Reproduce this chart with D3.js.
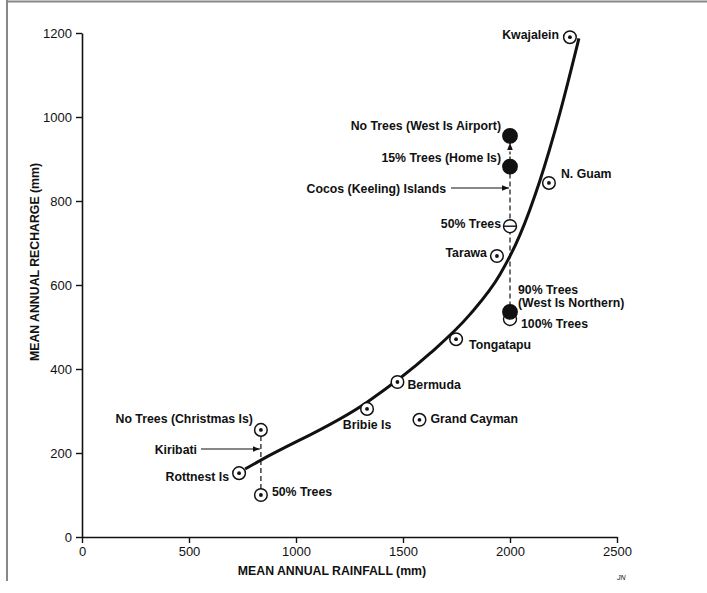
<!DOCTYPE html>
<html>
<head>
<meta charset="utf-8">
<script src="https://cdn.jsdelivr.net/npm/d3@7"></script>
<style>
  html, body { margin: 0; padding: 0; background: #fff; }
  svg { display: block; }
  text { font-family: "Liberation Sans", Arial, sans-serif; fill: #111; }
  .lbl { font-size: 12.3px; font-weight: bold; }
  .tick text { font-size: 13px; font-weight: normal; }
</style>
</head>
<body>
<div id="chart"></div>
<script>
(function () {
  'use strict';

  /* ---- Data (rainfall mm, recharge mm) ---- */
  const openNames    = ['Kwajalein', 'N. Guam', 'Tarawa', 'Tongatapu', 'Bermuda', 'Bribie Is',
                        'Grand Cayman', 'No Trees (Christmas Is)', 'Rottnest Is', '50% Trees'];
  const openRain     = [2280, 2182, 1939, 1748, 1474, 1332, 1577, 836, 734, 836];
  const openRecharge = [1190, 843, 669, 471, 369, 305, 279, 255, 152, 100];

  // Cocos (Keeling) Islands, all at the same rainfall
  const cocosNames    = ['100% Trees', 'No Trees (West Is Airport)', '15% Trees (Home Is)', '50% Trees', '90% Trees'];
  const cocosRain     = [2000, 2000, 2000, 2000, 2000];
  const cocosRecharge = [519, 955, 882, 740, 536];
  const cocosMarker   = ['open', 'filled', 'filled', 'half', 'filled'];

  // fitted curve
  const curveRain     = [762, 836, 1332, 1626, 1813, 1953, 2047, 2140, 2234, 2322];
  const curveRecharge = [162, 183, 321, 437, 530, 625, 720, 849, 1011, 1187];

  const xTicks = [0, 500, 1000, 1500, 2000, 2500];
  const yTicks = [0, 200, 400, 600, 800, 1000, 1200];

  /* ---- Label placement (dx, dy, anchor) ---- */
  const openLabelPos = {
    'Kwajalein':               [-11, 2, 'end'],
    'N. Guam':                 [12, -5, 'start'],
    'Tarawa':                  [-10, 1, 'end'],
    'Tongatapu':               [13, 10, 'start'],
    'Bermuda':                 [10, 7, 'start'],
    'Bribie Is':               [0, 20, 'middle'],
    'Grand Cayman':            [11, 3, 'start'],
    'No Trees (Christmas Is)': [-8, -7, 'end'],
    'Rottnest Is':             [-10, 8, 'end'],
    '50% Trees':               [11, 1, 'start']
  };
  const cocosLabelPos = {
    'No Trees (West Is Airport)': [-9, -6, 'end'],
    '15% Trees (Home Is)':        [-9, -5, 'end'],
    '50% Trees':                  [-9, 2, 'end'],
    '100% Trees':                 [11, 9, 'start']
  };

  const W = 707, H = 593;
  const x = d3.scaleLinear().domain([0, 2500]).range([82, 617]);
  const y = d3.scaleLinear().domain([0, 1200]).range([537, 33]);

  const svg = d3.select('#chart').append('svg')
    .attr('width', W).attr('height', H);

  const defs = svg.append('defs');
  defs.append('marker')
    .attr('id', 'arrow')
    .attr('viewBox', '0 0 10 10')
    .attr('refX', 10).attr('refY', 5)
    .attr('markerWidth', 7).attr('markerHeight', 7)
    .attr('markerUnits', 'userSpaceOnUse')
    .attr('orient', 'auto')
    .append('path').attr('d', 'M0,1 L10,5 L0,9 Z').attr('fill', '#111');

  /* ---- Scan frame ---- */
  svg.append('line').attr('x1', 7).attr('x2', 7).attr('y1', 0).attr('y2', 581)
    .attr('stroke', '#888').attr('stroke-width', 2);
  svg.append('line').attr('x1', 7).attr('x2', W).attr('y1', 1.5).attr('y2', 1.5)
    .attr('stroke', '#888').attr('stroke-width', 2);

  /* ---- Axes ---- */
  const xAxis = svg.append('g')
    .attr('transform', `translate(0,${y(0)})`)
    .call(d3.axisBottom(x).tickValues(xTicks).tickFormat(d3.format('d'))
      .tickSize(6).tickSizeOuter(0).tickPadding(4));
  const yAxis = svg.append('g')
    .attr('transform', `translate(${x(0)},0)`)
    .call(d3.axisLeft(y).tickValues(yTicks).tickFormat(d3.format('d'))
      .tickSize(6).tickSizeOuter(0).tickPadding(4));
  [xAxis, yAxis].forEach(g => {
    g.select('.domain').attr('stroke', '#111').attr('stroke-width', 1.6);
    g.selectAll('.tick line').attr('stroke', '#111').attr('stroke-width', 1.4);
    g.selectAll('.tick text').attr('fill', '#111');
  });

  svg.append('text').attr('class', 'lbl')
    .attr('x', 332).attr('y', 575).attr('text-anchor', 'middle')
    .text('MEAN ANNUAL RAINFALL (mm)');
  svg.append('text').attr('class', 'lbl')
    .attr('transform', 'translate(39,262) rotate(-90)').attr('text-anchor', 'middle')
    .text('MEAN ANNUAL RECHARGE (mm)');
  svg.append('text')
    .attr('x', 617).attr('y', 580)
    .style('font-size', '7px').style('font-style', 'italic')
    .text('JN');

  /* ---- Fitted curve ---- */
  const curvePts = curveRain.map((r, i) => [r, curveRecharge[i]]);
  svg.append('path')
    .datum(curvePts)
    .attr('d', d3.line().x(d => x(d[0])).y(d => y(d[1])).curve(d3.curveMonotoneX))
    .attr('fill', 'none').attr('stroke', '#111').attr('stroke-width', 3);

  /* ---- Dashed connectors ---- */
  const cx = x(2000);
  const dash = '5,3';
  svg.append('line')
    .attr('x1', cx).attr('x2', cx)
    .attr('y1', y(882) + 7).attr('y2', y(536) - 7)
    .attr('stroke', '#111').attr('stroke-width', 1.2).attr('stroke-dasharray', dash);
  svg.append('line')
    .attr('x1', cx).attr('x2', cx)
    .attr('y1', y(882) - 7).attr('y2', y(955) + 7)
    .attr('stroke', '#111').attr('stroke-width', 1.2).attr('stroke-dasharray', '3,2')
    .attr('marker-end', 'url(#arrow)');
  const kx = x(836);
  svg.append('line')
    .attr('x1', kx).attr('x2', kx)
    .attr('y1', y(255) + 6).attr('y2', y(100) - 6)
    .attr('stroke', '#111').attr('stroke-width', 1.2).attr('stroke-dasharray', dash);

  // pointer arrows
  const cocosY = 188, kiriY = 449;
  svg.append('text').attr('class', 'lbl')
    .attr('x', 446).attr('y', cocosY + 4.5).attr('text-anchor', 'end')
    .text('Cocos (Keeling) Islands');
  svg.append('line')
    .attr('x1', 451).attr('x2', cx - 1).attr('y1', cocosY).attr('y2', cocosY)
    .attr('stroke', '#111').attr('stroke-width', 1.2).attr('marker-end', 'url(#arrow)');
  svg.append('text').attr('class', 'lbl')
    .attr('x', 197).attr('y', kiriY + 4.5).attr('text-anchor', 'end')
    .text('Kiribati');
  svg.append('line')
    .attr('x1', 201).attr('x2', kx - 1).attr('y1', kiriY).attr('y2', kiriY)
    .attr('stroke', '#111').attr('stroke-width', 1.2).attr('marker-end', 'url(#arrow)');

  /* ---- Open circle-dot sites ---- */
  const openData = openNames.map((n, i) => ({ name: n, rain: openRain[i], rech: openRecharge[i] }));
  const og = svg.append('g').selectAll('g').data(openData).join('g')
    .attr('transform', d => `translate(${x(d.rain)},${y(d.rech)})`);
  og.append('circle').attr('r', 6.3).attr('fill', '#fff').attr('stroke', '#111').attr('stroke-width', 1.5);
  og.append('circle').attr('r', 1.9).attr('fill', '#111');
  og.append('text').attr('class', 'lbl')
    .attr('x', d => openLabelPos[d.name][0])
    .attr('y', d => openLabelPos[d.name][1])
    .attr('text-anchor', d => openLabelPos[d.name][2])
    .text(d => d.name);

  /* ---- Cocos sites ---- */
  const cocosData = cocosNames.map((n, i) => ({ name: n, rain: cocosRain[i], rech: cocosRecharge[i], kind: cocosMarker[i] }));
  const cg = svg.append('g').selectAll('g').data(cocosData).join('g')
    .attr('transform', d => `translate(${x(d.rain)},${y(d.rech)})`);
  cg.append('circle')
    .attr('r', d => d.kind === 'filled' ? 7.2 : 6.5)
    .attr('fill', d => d.kind === 'filled' ? '#111' : '#fff')
    .attr('stroke', '#111').attr('stroke-width', 1.4);
  cg.filter(d => d.kind === 'half').append('line')
    .attr('x1', -6.5).attr('x2', 6.5).attr('y1', 0).attr('y2', 0)
    .attr('stroke', '#111').attr('stroke-width', 1.4);
  cg.filter(d => cocosLabelPos[d.name]).append('text').attr('class', 'lbl')
    .attr('x', d => cocosLabelPos[d.name][0])
    .attr('y', d => cocosLabelPos[d.name][1])
    .attr('text-anchor', d => cocosLabelPos[d.name][2])
    .text(d => d.name);
  const n90 = cg.filter(d => d.name === '90% Trees');
  n90.append('text').attr('class', 'lbl').attr('x', 8).attr('y', -18).text('90% Trees');
  n90.append('text').attr('class', 'lbl').attr('x', 8).attr('y', -5).text('(West Is Northern)');
})();
</script>
</body>
</html>
